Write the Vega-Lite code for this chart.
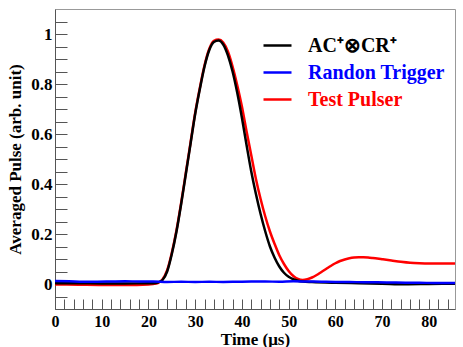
{
  "$schema": "https://vega.github.io/schema/vega-lite/v6.json",
  "width": 400,
  "height": 300,
  "autosize": "none",
  "padding": {"left": 55, "top": 9, "right": 8, "bottom": 38},
  "background": "white",
  "config": {"view": {"stroke": "#999", "strokeWidth": 1}, "font": "Liberation Serif"},
  "data": {"values": [
    {"s": "Test Pulser", "t": 0, "v": -0.002},
    {"s": "Test Pulser", "t": 5, "v": -0.003},
    {"s": "Test Pulser", "t": 10, "v": -0.004},
    {"s": "Test Pulser", "t": 15, "v": -0.004},
    {"s": "Test Pulser", "t": 20, "v": -0.002},
    {"s": "Test Pulser", "t": 21, "v": 0.0},
    {"s": "Test Pulser", "t": 22, "v": 0.004},
    {"s": "Test Pulser", "t": 23, "v": 0.018},
    {"s": "Test Pulser", "t": 24, "v": 0.055},
    {"s": "Test Pulser", "t": 25, "v": 0.125},
    {"s": "Test Pulser", "t": 26, "v": 0.215},
    {"s": "Test Pulser", "t": 27, "v": 0.325},
    {"s": "Test Pulser", "t": 28, "v": 0.445},
    {"s": "Test Pulser", "t": 29, "v": 0.565},
    {"s": "Test Pulser", "t": 30, "v": 0.685},
    {"s": "Test Pulser", "t": 31, "v": 0.785},
    {"s": "Test Pulser", "t": 32, "v": 0.875},
    {"s": "Test Pulser", "t": 33, "v": 0.94},
    {"s": "Test Pulser", "t": 34, "v": 0.973},
    {"s": "Test Pulser", "t": 35, "v": 0.978},
    {"s": "Test Pulser", "t": 36, "v": 0.966},
    {"s": "Test Pulser", "t": 37, "v": 0.93},
    {"s": "Test Pulser", "t": 38, "v": 0.87},
    {"s": "Test Pulser", "t": 39, "v": 0.795},
    {"s": "Test Pulser", "t": 40, "v": 0.71},
    {"s": "Test Pulser", "t": 41, "v": 0.61},
    {"s": "Test Pulser", "t": 42, "v": 0.515},
    {"s": "Test Pulser", "t": 43, "v": 0.42},
    {"s": "Test Pulser", "t": 44, "v": 0.34},
    {"s": "Test Pulser", "t": 45, "v": 0.27},
    {"s": "Test Pulser", "t": 46, "v": 0.21},
    {"s": "Test Pulser", "t": 47, "v": 0.16},
    {"s": "Test Pulser", "t": 48, "v": 0.115},
    {"s": "Test Pulser", "t": 49, "v": 0.08},
    {"s": "Test Pulser", "t": 50, "v": 0.052},
    {"s": "Test Pulser", "t": 51, "v": 0.032},
    {"s": "Test Pulser", "t": 52, "v": 0.02},
    {"s": "Test Pulser", "t": 53, "v": 0.016},
    {"s": "Test Pulser", "t": 54, "v": 0.019},
    {"s": "Test Pulser", "t": 55, "v": 0.026},
    {"s": "Test Pulser", "t": 56, "v": 0.036},
    {"s": "Test Pulser", "t": 57, "v": 0.048},
    {"s": "Test Pulser", "t": 58, "v": 0.06},
    {"s": "Test Pulser", "t": 59, "v": 0.072},
    {"s": "Test Pulser", "t": 60, "v": 0.083},
    {"s": "Test Pulser", "t": 61, "v": 0.092},
    {"s": "Test Pulser", "t": 62, "v": 0.098},
    {"s": "Test Pulser", "t": 63, "v": 0.103},
    {"s": "Test Pulser", "t": 64, "v": 0.106},
    {"s": "Test Pulser", "t": 65, "v": 0.107},
    {"s": "Test Pulser", "t": 66, "v": 0.107},
    {"s": "Test Pulser", "t": 67, "v": 0.106},
    {"s": "Test Pulser", "t": 68, "v": 0.104},
    {"s": "Test Pulser", "t": 70, "v": 0.099},
    {"s": "Test Pulser", "t": 72, "v": 0.094},
    {"s": "Test Pulser", "t": 74, "v": 0.089},
    {"s": "Test Pulser", "t": 76, "v": 0.085},
    {"s": "Test Pulser", "t": 78, "v": 0.083},
    {"s": "Test Pulser", "t": 80, "v": 0.082},
    {"s": "Test Pulser", "t": 82, "v": 0.082},
    {"s": "Test Pulser", "t": 85.6, "v": 0.082},
    {"s": "AC⁺⊗CR⁺", "t": 0, "v": 0.003},
    {"s": "AC⁺⊗CR⁺", "t": 5, "v": 0.003},
    {"s": "AC⁺⊗CR⁺", "t": 10, "v": 0.002},
    {"s": "AC⁺⊗CR⁺", "t": 15, "v": 0.002},
    {"s": "AC⁺⊗CR⁺", "t": 20, "v": 0.003},
    {"s": "AC⁺⊗CR⁺", "t": 21, "v": 0.003},
    {"s": "AC⁺⊗CR⁺", "t": 22, "v": 0.006},
    {"s": "AC⁺⊗CR⁺", "t": 23, "v": 0.016},
    {"s": "AC⁺⊗CR⁺", "t": 24, "v": 0.05},
    {"s": "AC⁺⊗CR⁺", "t": 25, "v": 0.12},
    {"s": "AC⁺⊗CR⁺", "t": 26, "v": 0.21},
    {"s": "AC⁺⊗CR⁺", "t": 27, "v": 0.32},
    {"s": "AC⁺⊗CR⁺", "t": 28, "v": 0.44},
    {"s": "AC⁺⊗CR⁺", "t": 29, "v": 0.56},
    {"s": "AC⁺⊗CR⁺", "t": 30, "v": 0.68},
    {"s": "AC⁺⊗CR⁺", "t": 31, "v": 0.78},
    {"s": "AC⁺⊗CR⁺", "t": 32, "v": 0.87},
    {"s": "AC⁺⊗CR⁺", "t": 33, "v": 0.935},
    {"s": "AC⁺⊗CR⁺", "t": 34, "v": 0.968},
    {"s": "AC⁺⊗CR⁺", "t": 35, "v": 0.974},
    {"s": "AC⁺⊗CR⁺", "t": 36, "v": 0.958},
    {"s": "AC⁺⊗CR⁺", "t": 37, "v": 0.915},
    {"s": "AC⁺⊗CR⁺", "t": 38, "v": 0.85},
    {"s": "AC⁺⊗CR⁺", "t": 39, "v": 0.765},
    {"s": "AC⁺⊗CR⁺", "t": 40, "v": 0.665},
    {"s": "AC⁺⊗CR⁺", "t": 41, "v": 0.555},
    {"s": "AC⁺⊗CR⁺", "t": 42, "v": 0.45},
    {"s": "AC⁺⊗CR⁺", "t": 43, "v": 0.36},
    {"s": "AC⁺⊗CR⁺", "t": 44, "v": 0.28},
    {"s": "AC⁺⊗CR⁺", "t": 45, "v": 0.21},
    {"s": "AC⁺⊗CR⁺", "t": 46, "v": 0.15},
    {"s": "AC⁺⊗CR⁺", "t": 47, "v": 0.105},
    {"s": "AC⁺⊗CR⁺", "t": 48, "v": 0.07},
    {"s": "AC⁺⊗CR⁺", "t": 49, "v": 0.045},
    {"s": "AC⁺⊗CR⁺", "t": 50, "v": 0.029},
    {"s": "AC⁺⊗CR⁺", "t": 51, "v": 0.019},
    {"s": "AC⁺⊗CR⁺", "t": 52, "v": 0.013},
    {"s": "AC⁺⊗CR⁺", "t": 53, "v": 0.01},
    {"s": "AC⁺⊗CR⁺", "t": 55, "v": 0.008},
    {"s": "AC⁺⊗CR⁺", "t": 60, "v": 0.005},
    {"s": "AC⁺⊗CR⁺", "t": 65, "v": 0.003},
    {"s": "AC⁺⊗CR⁺", "t": 70, "v": 0.001},
    {"s": "AC⁺⊗CR⁺", "t": 75, "v": -0.001},
    {"s": "AC⁺⊗CR⁺", "t": 80, "v": 0.0},
    {"s": "AC⁺⊗CR⁺", "t": 85.6, "v": 0.001},
    {"s": "Randon Trigger", "t": 0, "v": 0.012},
    {"s": "Randon Trigger", "t": 3, "v": 0.011},
    {"s": "Randon Trigger", "t": 6, "v": 0.009},
    {"s": "Randon Trigger", "t": 9, "v": 0.009},
    {"s": "Randon Trigger", "t": 12, "v": 0.01},
    {"s": "Randon Trigger", "t": 15, "v": 0.011},
    {"s": "Randon Trigger", "t": 18, "v": 0.01},
    {"s": "Randon Trigger", "t": 21, "v": 0.01},
    {"s": "Randon Trigger", "t": 24, "v": 0.008},
    {"s": "Randon Trigger", "t": 27, "v": 0.009},
    {"s": "Randon Trigger", "t": 30, "v": 0.008},
    {"s": "Randon Trigger", "t": 33, "v": 0.009},
    {"s": "Randon Trigger", "t": 36, "v": 0.008},
    {"s": "Randon Trigger", "t": 39, "v": 0.009},
    {"s": "Randon Trigger", "t": 42, "v": 0.01},
    {"s": "Randon Trigger", "t": 45, "v": 0.01},
    {"s": "Randon Trigger", "t": 48, "v": 0.009},
    {"s": "Randon Trigger", "t": 51, "v": 0.011},
    {"s": "Randon Trigger", "t": 54, "v": 0.01},
    {"s": "Randon Trigger", "t": 57, "v": 0.009},
    {"s": "Randon Trigger", "t": 60, "v": 0.008},
    {"s": "Randon Trigger", "t": 63, "v": 0.008},
    {"s": "Randon Trigger", "t": 66, "v": 0.007},
    {"s": "Randon Trigger", "t": 69, "v": 0.007},
    {"s": "Randon Trigger", "t": 72, "v": 0.006},
    {"s": "Randon Trigger", "t": 75, "v": 0.005},
    {"s": "Randon Trigger", "t": 78, "v": 0.005},
    {"s": "Randon Trigger", "t": 81, "v": 0.004},
    {"s": "Randon Trigger", "t": 85.6, "v": 0.004}
  ]},
  "mark": {"type": "line", "strokeWidth": 2.5, "clip": true, "interpolate": "monotone"},
  "encoding": {
    "x": {
      "field": "t", "type": "quantitative",
      "scale": {"domain": [0, 85.6], "nice": false, "zero": false},
      "axis": {
        "title": "Time (μs)",
        "values": [0,2,4,6,8,10,12,14,16,18,20,22,24,26,28,30,32,34,36,38,40,42,44,46,48,50,52,54,56,58,60,62,64,66,68,70,72,74,76,78,80,82,84],
        "labelExpr": "datum.value % 10 === 0 ? format(datum.value, 'd') : ''",
        "tickSize": -10,
        "encode": {"ticks": {"update": {"y2": {"signal": "datum.value % 10 === 0 ? -10 : -5"}}}},
        "grid": false,
        "domainColor": "#555",
        "tickColor": "#555",
        "labelFont": "Liberation Serif",
        "labelFontWeight": "bold",
        "labelFontSize": 16,
        "labelColor": "black",
        "labelPadding": 14,
        "labelOverlap": false,
        "labelFlush": false,
        "titleFont": "Liberation Serif",
        "titleFontWeight": "bold",
        "titleFontSize": 17,
        "titleColor": "black",
        "titleX": 200,
        "titleY": 30,
        "titleBaseline": "middle",
        "titleAlign": "center"
      }
    },
    "y": {
      "field": "v", "type": "quantitative",
      "scale": {"domain": [-0.1, 1.1], "nice": false, "zero": false},
      "axis": {
        "title": "Averaged Pulse (arb. unit)",
        "values": [-0.05,0,0.05,0.1,0.15,0.2,0.25,0.3,0.35,0.4,0.45,0.5,0.55,0.6,0.65,0.7,0.75,0.8,0.85,0.9,0.95,1,1.05],
        "labelExpr": "abs(round(datum.value*100)) % 20 === 0 ? format(datum.value, '~g') : ''",
        "tickSize": -12,
        "encode": {"ticks": {"update": {"x2": {"signal": "abs(round(datum.value*100)) % 20 === 0 ? 12 : 6"}}}},
        "grid": false,
        "domainColor": "#555",
        "tickColor": "#555",
        "labelFont": "Liberation Serif",
        "labelFontWeight": "bold",
        "labelFontSize": 17,
        "labelColor": "black",
        "labelPadding": 15,
        "labelOverlap": false,
        "labelFlush": false,
        "titleFont": "Liberation Serif",
        "titleFontWeight": "bold",
        "titleFontSize": 17,
        "titleColor": "black",
        "titleX": -40,
        "titleY": 150,
        "titleAngle": -90,
        "titleBaseline": "middle",
        "titleAlign": "center"
      }
    },
    "color": {
      "field": "s", "type": "nominal",
      "scale": {"domain": ["AC⁺⊗CR⁺", "Randon Trigger", "Test Pulser"], "range": ["#000000", "#0000ff", "#ff0000"]},
      "legend": {
        "title": null,
        "orient": "none",
        "legendX": 207,
        "legendY": 21,
        "padding": 0,
        "symbolType": "stroke",
        "symbolSize": 784,
        "symbolStrokeWidth": 2.5,
        "labelFont": "Liberation Serif",
        "labelFontWeight": "bold",
        "labelFontSize": 20,
        "labelOffset": 15,
        "rowPadding": 1,
        "labelLimit": 300,
        "encode": {"labels": {"update": {"fill": {"scale": "color", "field": "value"}}}}
      }
    }
  }
}
